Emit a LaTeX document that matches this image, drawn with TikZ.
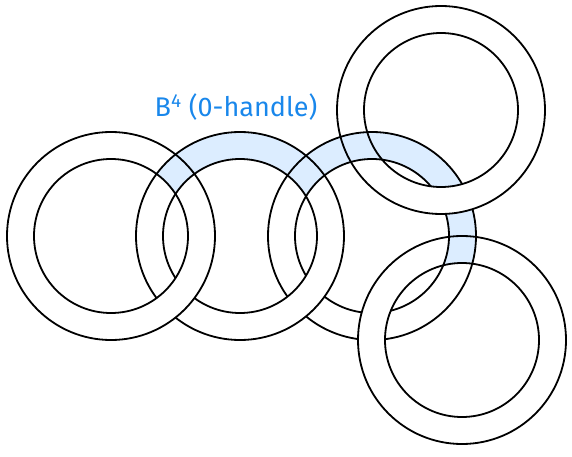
\documentclass[tikz,border=0pt]{standalone}
\usepackage{fontspec}
\newfontfamily\handfont{Fira Sans}
\usepackage{tikz}
\usetikzlibrary{calc}

\definecolor{handlefill}{RGB}{220,237,255}
\definecolor{handleink}{RGB}{25,135,235}
\newcommand{\Rout}{104}
\newcommand{\Rin}{77}
% closed piece of a ring between two angles
\newcommand{\ringpart}[3]{($(#1)+(#2:\Rout)$) arc[start angle=#2, end angle=#3, radius=\Rout] -- ($(#1)+(#3:\Rin)$) arc[start angle=#3, end angle=#2, radius=\Rin] -- cycle}

\tikzset{
    ringline/.style={draw=black, line width=1.8pt},
    handlelabel/.style={text=handleink, font=\handfont\fontsize{27}{32}\selectfont}
}

\begin{document}
\begin{tikzpicture}[x=1pt, y=1pt]
    \useasboundingbox (0,0) rectangle (572,456);
    \coordinate (ringA) at (111,220);
    \coordinate (ringB) at (240,220);
    \coordinate (ringC) at (372,220);
    \coordinate (ringD) at (441,346);
    \coordinate (ringE) at (462,116);

    % shaded band of the 0-handle
    \begin{scope}[even odd rule]
        \clip (0,0) rectangle (572,456) (ringA) circle[radius=\Rin] (ringC) circle[radius=\Rin];
        \fill[handlefill] \ringpart{ringB}{0}{180};
    \end{scope}
    \begin{scope}[even odd rule]
        \clip (0,0) rectangle (572,456) (ringB) circle[radius=\Rin] (ringE) circle[radius=\Rin];
        \fill[handlefill] \ringpart{ringC}{-40}{180};
    \end{scope}
    \fill[white] \ringpart{ringD}{-125}{-40};

    % rings
    \foreach \c in {ringA,ringD,ringE}
        \draw[ringline] (\c) circle[radius=\Rout] (\c) circle[radius=\Rin];
    \begin{scope}[even odd rule]
        \clip (0,0) rectangle (572,456) \ringpart{ringA}{-90}{0};
        \draw[ringline] (ringB) circle[radius=\Rout] (ringB) circle[radius=\Rin];
    \end{scope}
    \begin{scope}[even odd rule]
        \clip (0,0) rectangle (572,456) \ringpart{ringB}{-90}{0} \ringpart{ringD}{-125}{-40} \ringpart{ringE}{140}{200};
        \draw[ringline] (ringC) circle[radius=\Rout] (ringC) circle[radius=\Rin];
    \end{scope}

    \node[handlelabel] (label) at (236,349) {B\textsuperscript{4} (0-handle)};
\end{tikzpicture}
\end{document}
